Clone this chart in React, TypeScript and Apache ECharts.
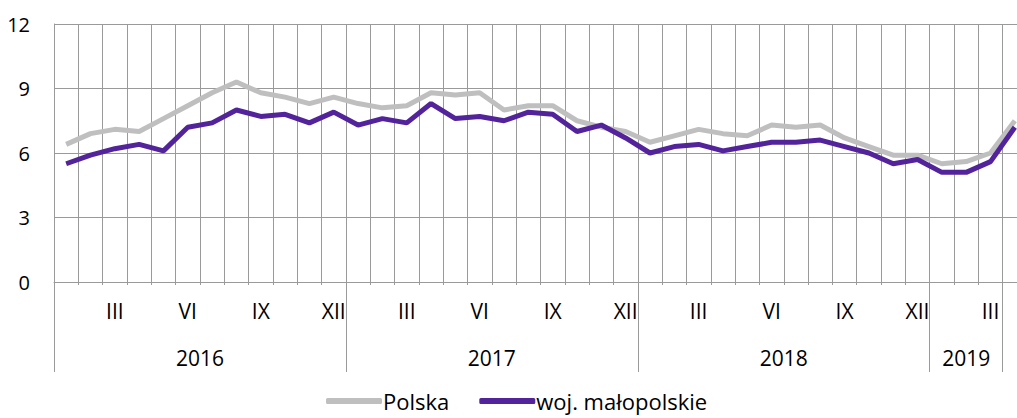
import React, { useEffect, useRef } from "react";
import * as echarts from "echarts";

const monthLabels = [
  "I","II","III","IV","V","VI","VII","VIII","IX","X","XI","XII",
  "I","II","III","IV","V","VI","VII","VIII","IX","X","XI","XII",
  "I","II","III","IV","V","VI","VII","VIII","IX","X","XI","XII",
  "I","II","III","IV",
];
const yearLabels = ["2016", "2017", "2018", "2019"];
const yearLabelPositions = [6, 18, 30, 37.5];
const yearBoundaries = [0, 12, 24, 36, 39];

const polska = [
  6.4, 6.9, 7.1, 7.0, 7.6, 8.2, 8.8, 9.3, 8.8, 8.6, 8.3, 8.6,
  8.3, 8.1, 8.2, 8.8, 8.7, 8.8, 8.0, 8.2, 8.2, 7.5, 7.2, 7.0,
  6.5, 6.8, 7.1, 6.9, 6.8, 7.3, 7.2, 7.3, 6.7, 6.3, 5.9, 5.9,
  5.5, 5.6, 6.0, 7.5,
];
const malopolskie = [
  5.5, 5.9, 6.2, 6.4, 6.1, 7.2, 7.4, 8.0, 7.7, 7.8, 7.4, 7.9,
  7.3, 7.6, 7.4, 8.3, 7.6, 7.7, 7.5, 7.9, 7.8, 7.0, 7.3, 6.7,
  6.0, 6.3, 6.4, 6.1, 6.3, 6.5, 6.5, 6.6, 6.3, 6.0, 5.5, 5.7,
  5.1, 5.1, 5.6, 7.2,
];

const FONT = "'Open Sans', 'Noto Sans', sans-serif";
const GRID = "#9a9a9a";

export default function App() {
  const ref = useRef<HTMLDivElement>(null);
  useEffect(() => {
    if (!ref.current) return;
    const chart = echarts.init(ref.current, undefined, { renderer: "svg" });
    chart.setOption({
      animation: false,
      textStyle: { fontFamily: FONT },
      grid: { left: 54, top: 24, right: 0, bottom: 136, containLabel: false },
      legend: {
        top: 390,
        left: 326,
        padding: 0,
        icon: "roundRect",
        itemWidth: 56,
        itemHeight: 6,
        itemGap: 30,
        textStyle: { fontFamily: FONT, fontSize: 22, lineHeight: 22, color: "#000", padding: [0, 0, 0, -4] },
        data: ["Polska", "woj. małopolskie"],
      },
      xAxis: [
        {
          type: "category",
          data: monthLabels,
          boundaryGap: true,
          axisLine: { show: true, lineStyle: { color: GRID, width: 1 } },
          axisTick: { show: true, length: 3, interval: 0, lineStyle: { color: GRID } },
          splitLine: { show: true, interval: 0, lineStyle: { color: GRID, width: 1 } },
          axisLabel: {
            interval: (i: number) => i % 3 === 2,
            margin: 18,
            fontSize: 21,
            color: "#000",
            fontFamily: FONT,
          },
        },
        {
          type: "value",
          min: 0,
          max: 40,
          position: "bottom",
          axisLine: { show: false },
          splitLine: { show: false },
          axisTick: {
            show: true,
            length: 90,
            customValues: yearBoundaries,
            lineStyle: { color: GRID, width: 1 },
          },
          axisLabel: {
            show: true,
            customValues: yearLabelPositions,
            margin: 65,
            fontSize: 21,
            color: "#000",
            fontFamily: FONT,
            formatter: (v: number) => {
              const idx = yearLabelPositions.indexOf(v);
              return idx >= 0 ? yearLabels[idx] : "";
            },
          },
        },
      ],
      yAxis: {
        type: "value",
        min: 0,
        max: 12,
        interval: 3,
        axisLine: { show: true, lineStyle: { color: GRID } },
        axisTick: { show: false },
        splitLine: { show: true, lineStyle: { color: GRID, width: 1 } },
        axisLabel: { margin: 24, fontSize: 20, color: "#000", fontFamily: FONT },
      },
      series: [
        {
          name: "Polska",
          type: "line",
          data: polska,
          xAxisIndex: 0,
          showSymbol: false,
          symbol: "none",
          lineStyle: { color: "#bfbfbf", width: 5 },
          itemStyle: { color: "#bfbfbf" },
        },
        {
          name: "woj. małopolskie",
          type: "line",
          data: malopolskie,
          xAxisIndex: 0,
          showSymbol: false,
          symbol: "none",
          lineStyle: { color: "#52239a", width: 5 },
          itemStyle: { color: "#52239a" },
        },
      ],
    });
    return () => chart.dispose();
  }, []);
  return (
    <div
      style={{ position: "fixed", left: 0, top: 0, width: 1017, height: 418, background: "#fff", overflow: "hidden" }}
    >
      <div ref={ref} style={{ width: 1027, height: 418 }} />
    </div>
  );
}
